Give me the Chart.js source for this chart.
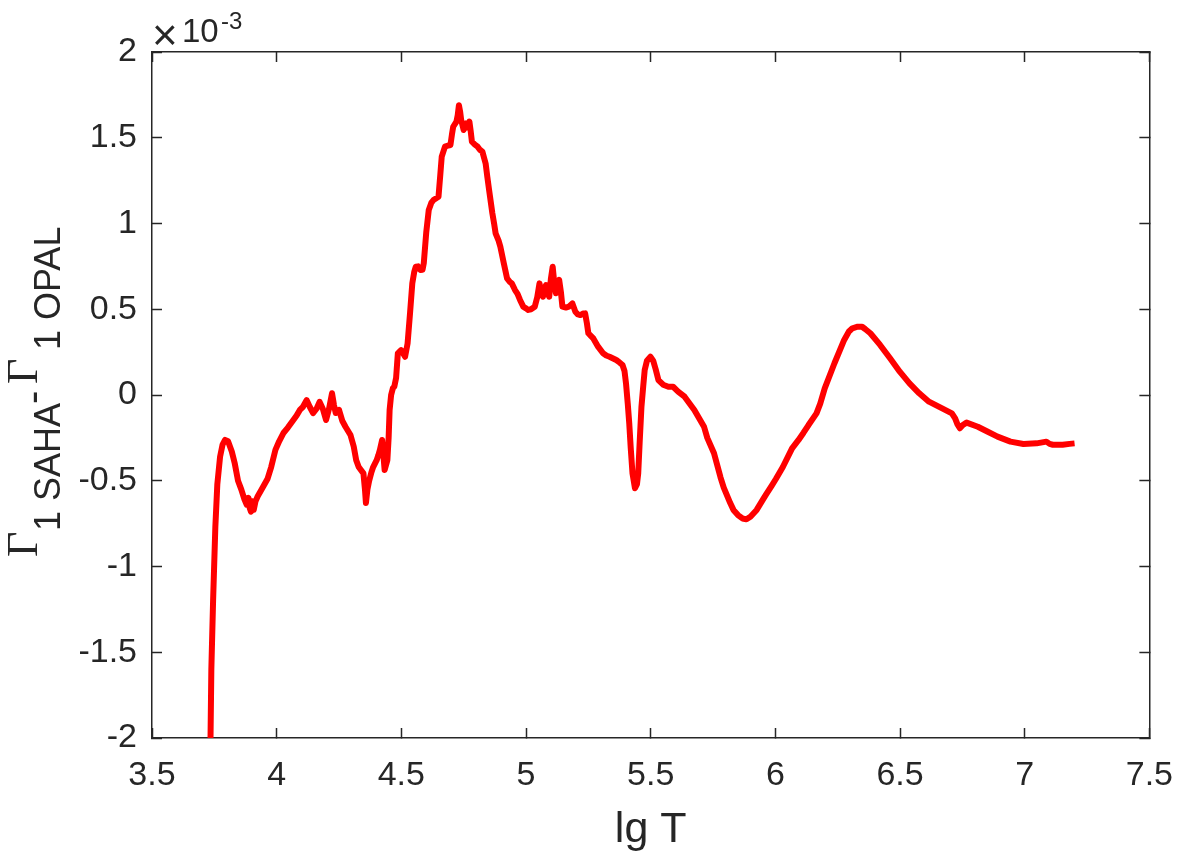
<!DOCTYPE html>
<html>
<head>
<meta charset="utf-8">
<title>Gamma1 SAHA - OPAL</title>
<script src="https://cdn.jsdelivr.net/npm/chart.js@4.4.0/dist/chart.umd.min.js"></script>
<style>
  body { margin: 0; background: #ffffff; }
  #box { width: 1200px; height: 857px; }
</style>
</head>
<body>
<div id="box"><canvas id="myChart"></canvas></div>
<script>
// lg T values
const lgT = [
  3.733, 3.738, 3.745, 3.754, 3.762, 3.773, 3.783, 3.793, 3.805, 3.82,
  3.832, 3.845, 3.858, 3.871, 3.88, 3.887, 3.892, 3.897, 3.903, 3.908,
  3.915, 3.924, 3.94, 3.963, 3.978, 3.995, 4.01, 4.028, 4.045, 4.067,
  4.08, 4.093, 4.105, 4.12, 4.133, 4.146, 4.16, 4.172, 4.185, 4.198,
  4.21, 4.222, 4.23, 4.237, 4.25, 4.263, 4.276, 4.296, 4.309, 4.319,
  4.329, 4.348, 4.354, 4.358, 4.364, 4.371, 4.38, 4.387, 4.394, 4.401,
  4.408, 4.414, 4.423, 4.428, 4.433, 4.444, 4.449, 4.453, 4.459, 4.466,
  4.472, 4.479, 4.486, 4.499, 4.508, 4.515, 4.525, 4.535, 4.544, 4.552,
  4.558, 4.567, 4.577, 4.585, 4.59, 4.6, 4.61, 4.62, 4.629, 4.649,
  4.656, 4.662, 4.675, 4.688, 4.697, 4.703, 4.708, 4.721, 4.726, 4.731,
  4.736, 4.74, 4.75, 4.755, 4.76, 4.766, 4.773, 4.778, 4.783, 4.795,
  4.806, 4.815, 4.825, 4.838, 4.845, 4.852, 4.865, 4.872, 4.878, 4.89,
  4.897, 4.911, 4.924, 4.935, 4.943, 4.956, 4.966, 4.976, 4.989, 5.0,
  5.009, 5.02, 5.035, 5.045, 5.054, 5.061, 5.068, 5.074, 5.08, 5.087,
  5.093, 5.1, 5.107, 5.113, 5.12, 5.126, 5.133, 5.14, 5.146, 5.16,
  5.172, 5.186, 5.198, 5.208, 5.218, 5.23, 5.237, 5.244, 5.25, 5.26,
  5.27, 5.289, 5.309, 5.322, 5.335, 5.362, 5.375, 5.387, 5.395, 5.401,
  5.408, 5.414, 5.42, 5.427, 5.437, 5.445, 5.45, 5.456, 5.463, 5.47,
  5.476, 5.485, 5.499, 5.51, 5.52, 5.531, 5.55, 5.571, 5.59, 5.61,
  5.636, 5.675, 5.714, 5.727, 5.754, 5.78, 5.793, 5.819, 5.832, 5.85,
  5.868, 5.884, 5.9, 5.925, 5.95, 5.963, 5.985, 6.002, 6.03, 6.067,
  6.093, 6.113, 6.133, 6.165, 6.18, 6.198, 6.237, 6.276, 6.295, 6.309,
  6.33, 6.348, 6.36, 6.381, 6.42, 6.46, 6.499, 6.538, 6.577, 6.616,
  6.669, 6.708, 6.721, 6.73, 6.74, 6.752, 6.767, 6.812, 6.852, 6.891,
  6.943, 6.995, 7.048, 7.087, 7.1, 7.113, 7.152, 7.18, 7.2
];

// Gamma1(SAHA) - Gamma1(OPAL), in units of 1e-3
const dGamma = [
  -2.2, -1.6, -1.2, -0.77, -0.52, -0.36, -0.29, -0.262, -0.27, -0.33,
  -0.40, -0.50, -0.55, -0.61, -0.64, -0.60, -0.66, -0.68, -0.62, -0.67,
  -0.62, -0.59, -0.55, -0.49, -0.42, -0.32, -0.27, -0.22, -0.19, -0.146,
  -0.12, -0.087, -0.07, -0.03, -0.07, -0.105, -0.08, -0.04, -0.08, -0.146,
  -0.08, 0.01, -0.06, -0.105, -0.087, -0.15, -0.185, -0.233, -0.30, -0.38,
  -0.42, -0.457, -0.55, -0.63, -0.55, -0.50, -0.45, -0.42, -0.40, -0.38,
  -0.35, -0.32, -0.262, -0.35, -0.437, -0.38, -0.25, -0.087, 0.0, 0.04,
  0.05, 0.10, 0.243, 0.262, 0.24, 0.223, 0.30, 0.48, 0.651, 0.72,
  0.748, 0.75, 0.729, 0.73, 0.768, 0.95, 1.079, 1.12, 1.137, 1.156,
  1.28, 1.39, 1.448, 1.455, 1.458, 1.52, 1.564, 1.594, 1.63, 1.69,
  1.65, 1.603, 1.545, 1.57, 1.584, 1.56, 1.594, 1.54, 1.477, 1.46,
  1.448, 1.43, 1.419, 1.35, 1.27, 1.195, 1.06, 1.0, 0.943, 0.9,
  0.865, 0.768, 0.68, 0.66, 0.651, 0.612, 0.59, 0.554, 0.515, 0.505,
  0.496, 0.50, 0.515, 0.57, 0.651, 0.60, 0.573, 0.62, 0.641, 0.60,
  0.573, 0.68, 0.748, 0.66, 0.593, 0.64, 0.671, 0.60, 0.515, 0.51,
  0.515, 0.534, 0.486, 0.47, 0.466, 0.475, 0.476, 0.42, 0.36, 0.345,
  0.33, 0.282, 0.243, 0.23, 0.223, 0.204, 0.19, 0.175, 0.14, 0.068,
  -0.05, -0.165, -0.31, -0.457, -0.544, -0.52, -0.457, -0.27, -0.068, 0.05,
  0.146, 0.2, 0.223, 0.2, 0.15, 0.087, 0.06, 0.048, 0.048, 0.02,
  -0.01, -0.087, -0.185, -0.25, -0.34, -0.48, -0.54, -0.63, -0.67, -0.70,
  -0.72, -0.725, -0.71, -0.67, -0.61, -0.58, -0.53, -0.49, -0.42, -0.311,
  -0.262, -0.22, -0.175, -0.107, -0.05, 0.039, 0.185, 0.321, 0.37, 0.389,
  0.398, 0.398, 0.385, 0.36, 0.292, 0.214, 0.136, 0.068, 0.01, -0.039,
  -0.078, -0.107, -0.136, -0.17, -0.194, -0.175, -0.161, -0.185, -0.214, -0.243,
  -0.272, -0.286, -0.282, -0.272, -0.285, -0.29, -0.29, -0.285, -0.282
];

const xTicks = [3.5, 4, 4.5, 5, 5.5, 6, 6.5, 7, 7.5];
const yTicks = [-2, -1.5, -1, -0.5, 0, 0.5, 1, 1.5, 2];

const axisColor = '#262626';
const tickFont = { family: '"Liberation Sans", Arial, sans-serif', size: 34 };

var points = [];
for (var i = 0; i < lgT.length; i++) {
  points.push({ x: lgT[i], y: dGamma[i] });
}

function setTicks(list) {
  return function (scale) {
    scale.ticks = list.map(function (v) { return { value: v }; });
  };
}

// matlab style: 2 not 2.0
function plainLabel(v) {
  return String(v);
}

// frame side without labels, ticks pointing inward
function boxSide(pos, list, lo, hi) {
  return {
    type: 'linear',
    position: pos,
    min: lo,
    max: hi,
    afterBuildTicks: setTicks(list),
    afterFit: function (scale) {
      if (pos === 'top') scale.height = 0; else scale.width = 0;
    },
    ticks: { display: false },
    grid: { drawOnChartArea: false, drawTicks: true, tickLength: -10, tickColor: axisColor, tickWidth: 1.5 },
    border: { display: true, color: axisColor, width: 1.5 }
  };
}

// y title with subscripts and the x10^-3 factor
const extraText = {
  id: 'extraText',
  afterDraw: function (chart) {
    var c = chart.ctx;
    var sans = '"Liberation Sans", Arial, sans-serif';
    var serif = '"Liberation Serif", "Times New Roman", serif';
    c.save();
    c.fillStyle = axisColor;
    c.textAlign = 'left';
    c.textBaseline = 'alphabetic';

    c.rotate(-Math.PI / 2);
    var parts = [
      { t: '\u0393', f: '44px ' + serif, y: 557, base: 37 },
      { t: '1 SAHA', f: '36px ' + sans, y: 531, base: 60 },
      { t: '-', f: '40px ' + sans, y: 404, base: 46 },
      { t: '\u0393', f: '44px ' + serif, y: 384, base: 37 },
      { t: '1 OPAL', f: '36px ' + sans, y: 350, base: 60 }
    ];
    parts.forEach(function (p) {
      c.font = p.f;
      c.fillText(p.t, -p.y, p.base);
    });
    c.restore();

    c.save();
    c.fillStyle = axisColor;
    c.textBaseline = 'alphabetic';
    c.font = '300 44px ' + sans;
    c.fillText('\u00d7', 152, 50);
    c.font = '33px ' + sans;
    c.fillText('10', 182, 42);
    c.font = '24px ' + sans;
    c.fillText('-3', 221, 29);
    c.restore();
  }
};

const ctx = document.getElementById('myChart');

new Chart(ctx, {
  type: 'line',
  data: {
    datasets: [{
      label: 'dGamma1',
      data: points,
      borderColor: '#ff0000',
      borderWidth: 6,
      pointRadius: 0,
      tension: 0,
      fill: false,
      borderJoinStyle: 'round',
      borderCapStyle: 'butt'
    }]
  },
  options: {
    responsive: true,
    maintainAspectRatio: false,
    animation: false,
    layout: { padding: { top: 52, right: 28, left: 0, bottom: 0 } },
    plugins: {
      legend: { display: false },
      tooltip: { enabled: false }
    },
    scales: {
      x: {
        type: 'linear',
        position: 'bottom',
        min: 3.5,
        max: 7.5,
        afterBuildTicks: setTicks(xTicks),
        afterFit: function (scale) { scale.height = 119; },
        ticks: { color: axisColor, font: tickFont, padding: 27, maxRotation: 0, autoSkip: false, callback: plainLabel },
        grid: { drawOnChartArea: false, drawTicks: true, tickLength: -10, tickColor: axisColor, tickWidth: 1.5 },
        border: { display: true, color: axisColor, width: 1.5 },
        title: {
          display: true,
          text: 'lg T',
          color: axisColor,
          font: { family: '"Liberation Sans", Arial, sans-serif', size: 43 },
          padding: { top: 0, bottom: 1 }
        }
      },
      y: {
        type: 'linear',
        position: 'left',
        min: -2,
        max: 2,
        afterBuildTicks: setTicks(yTicks),
        afterFit: function (scale) { scale.width = 152; },
        ticks: { color: axisColor, font: tickFont, padding: 25, autoSkip: false, callback: plainLabel },
        grid: { drawOnChartArea: false, drawTicks: true, tickLength: -10, tickColor: axisColor, tickWidth: 1.5 },
        border: { display: true, color: axisColor, width: 1.5 }
      },
      x2: boxSide('top', xTicks, 3.5, 7.5),
      y2: boxSide('right', yTicks, -2, 2)
    }
  },
  plugins: [extraText]
});
</script>
</body>
</html>
